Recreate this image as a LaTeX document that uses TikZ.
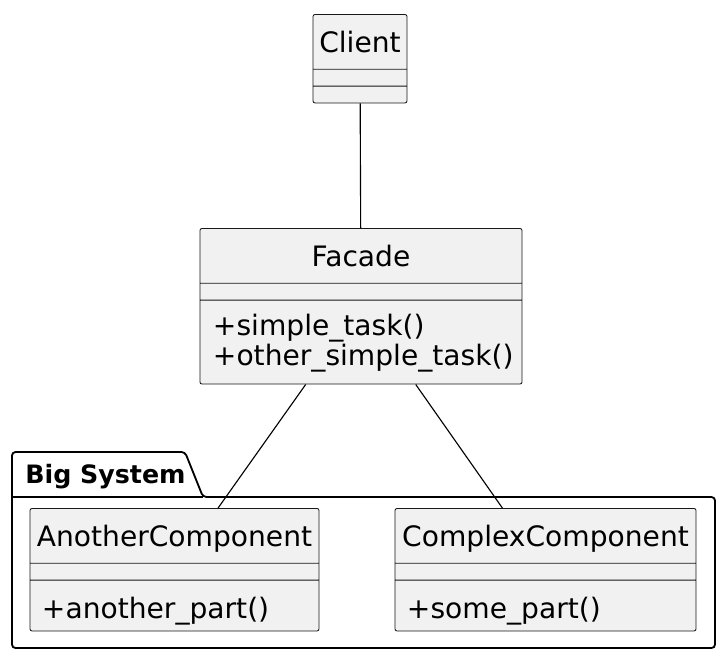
\documentclass[tikz,border=0pt]{standalone}
\usepackage{fontspec}
\setmainfont{DejaVu Sans}
\usetikzlibrary{shapes.multipart}

\definecolor{classfill}{HTML}{F1F1F1}
\definecolor{classline}{HTML}{181818}

\tikzset{
    umlclass/.style={rectangle split, rectangle split parts=3, draw=classline, fill=classfill,
        line width=0.6pt, rounded corners=1.5pt, inner xsep=0.15cm, inner ysep=0.2cm,
        font=\fontsize{20}{24}\selectfont, rectangle split part align={center,left,left},
        anchor=north},
    assoc/.style={line width=0.8pt, black},
    pkg/.style={line width=1.3pt, black, rounded corners=2.5pt},
}
\newcommand{\hdstrut}{\rule[-0.21cm]{0pt}{0.95cm}}
\newcommand{\opline}[1]{\rule[-0.1cm]{0pt}{0.85cm}\hspace{0.15cm}\smash{#1}}
\newcommand{\nofield}{\rule{0.01pt}{0pt}}

\begin{document}
\begin{tikzpicture}[x=0.025cm, y=-0.025cm]
    \useasboundingbox (0,0) rectangle (727,660);

    % The package
    \draw[pkg] (12,497) -- (12,452) -- (185,452) -- (203,497) -- (715,497) -- (715,648) -- (12,648) -- cycle;
    \draw[pkg] (12,497) -- (203,497);
    \node[font=\fontsize{18}{22}\selectfont\bfseries, anchor=base west, inner sep=0pt] (bigsys) at (25,483) {Big System};

    % Classes
    \node[umlclass, minimum width=2.35cm] (client) at (360,14) {\hdstrut Client\nodepart{two}\nofield\nodepart{three}\nofield};
    \node[umlclass, minimum width=8.05cm] (facade) at (361,228) {\hdstrut Facade\nodepart{two}\nofield\nodepart{three}%
        \renewcommand{\arraystretch}{0.86}%
        \begin{tabular}{@{\hspace{0.175cm}}l@{}}
            \rule{0pt}{0.675cm}+simple\_task()\\
            +other\_simple\_task()\rule[-0.25cm]{0pt}{0.25cm}
        \end{tabular}};
    \node[umlclass, minimum width=7.225cm] (another) at (174.5,508) {\hdstrut AnotherComponent\nodepart{two}\nofield\nodepart{three}\opline{+another\_part()}};
    \node[umlclass, minimum width=7.525cm] (complex) at (545.5,508) {\hdstrut ComplexComponent\nodepart{two}\nofield\nodepart{three}\opline{+some\_part()}};

    % Associations
    \draw[assoc] (client) -- (facade);
    \draw[assoc] (facade) -- (another);
    \draw[assoc] (facade) -- (complex);
\end{tikzpicture}
\end{document}
